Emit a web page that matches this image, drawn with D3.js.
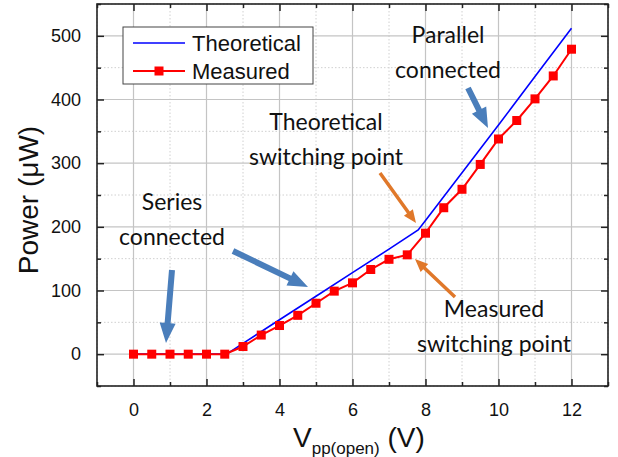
<!DOCTYPE html>
<html lang="en">
<head>
<meta charset="UTF-8">
<title>Power vs Vpp</title>
<script src="https://cdn.jsdelivr.net/npm/d3@7"></script>
<style>
  body { margin: 0; background: #fff; }
  svg { display: block; }
  .tick-lbl { font-family: "Liberation Sans", Arial, sans-serif; font-size: 18px; fill: #111; }
  .note { font-family: Lato, "Open Sans", sans-serif; font-size: 23px; fill: #111; }
</style>
</head>
<body>
<svg id="chart"></svg>
<script>
// theoretical curve
var theoX = [0, 1, 2, 2.55, 3, 4, 5, 6, 7, 7.8, 8, 9, 10, 11, 12];
var theoY = [0, 0, 0, 0, 17, 54, 91, 128, 165, 195, 210, 285, 360, 436, 512];

// measured points (red squares)
var measX = [0, 0.5, 1, 1.5, 2, 2.5, 3, 3.5, 4, 4.5, 5, 5.5, 6, 6.5, 7, 7.5, 8, 8.5, 9, 9.5, 10, 10.5, 11, 11.5, 12];
var measY = [0, 0, 0, 0, 0, 0, 12, 30, 45, 61, 80, 99, 112, 133, 149, 156, 190, 230, 259, 298, 338, 367, 401, 437, 479];

var xTicks = [0, 2, 4, 6, 8, 10, 12];
var yTicks = [0, 100, 200, 300, 400, 500];
var xMinor = [-1, 1, 3, 5, 7, 9, 11, 13];
var yMinor = [-50, 50, 150, 250, 350, 450, 550];

var seriesNames = ["Theoretical", "Measured"];

var width = 618, height = 457;
var margin = { top: 4, left: 97, right: 10, bottom: 71 };
var chartW = width - margin.left - margin.right;
var chartH = height - margin.top - margin.bottom;

var svg = d3.select("#chart").attr("width", width).attr("height", height);

var xScale = d3.scaleLinear().domain([-1, 13]).range([0, chartW]);
var yScale = d3.scaleLinear().domain([-50, 550]).range([chartH, 0]);

var plot = svg.append("g")
  .attr("transform", "translate(" + margin.left + "," + margin.top + ")");

// grid: minor dotted, major solid
plot.append("g").selectAll("line").data(xMinor).enter().append("line")
  .attr("x1", d => xScale(d)).attr("x2", d => xScale(d))
  .attr("y1", 0).attr("y2", chartH)
  .attr("stroke", "#d0d0d0").attr("stroke-width", 1).attr("stroke-dasharray", "1.5,2");
plot.append("g").selectAll("line").data(yMinor).enter().append("line")
  .attr("y1", d => yScale(d)).attr("y2", d => yScale(d))
  .attr("x1", 0).attr("x2", chartW)
  .attr("stroke", "#d0d0d0").attr("stroke-width", 1).attr("stroke-dasharray", "1.5,2");
plot.append("g").selectAll("line").data(xTicks).enter().append("line")
  .attr("x1", d => xScale(d)).attr("x2", d => xScale(d))
  .attr("y1", 0).attr("y2", chartH)
  .attr("stroke", "#c4c4c4").attr("stroke-width", 1.2);
plot.append("g").selectAll("line").data(yTicks).enter().append("line")
  .attr("y1", d => yScale(d)).attr("y2", d => yScale(d))
  .attr("x1", 0).attr("x2", chartW)
  .attr("stroke", "#c4c4c4").attr("stroke-width", 1.2);

// axes with inward ticks on all four sides
function styleAxis(g) {
  g.select(".domain").remove();
  g.selectAll(".tick line").attr("stroke", "#222").attr("stroke-width", 1.5);
  g.selectAll(".tick text").attr("class", "tick-lbl").attr("fill", null);
}
var xAxis = d3.axisBottom(xScale).tickValues(xTicks).tickSize(-7).tickPadding(17).tickFormat(d3.format("d"));
var yAxis = d3.axisLeft(yScale).tickValues(yTicks).tickSize(-7).tickPadding(16).tickFormat(d3.format("d"));
plot.append("g").attr("transform", "translate(0," + chartH + ")").call(xAxis).call(styleAxis);
plot.append("g").call(yAxis).call(styleAxis);
plot.append("g").call(d3.axisTop(xScale).tickValues(xTicks).tickSize(-7).tickFormat("")).call(styleAxis);
plot.append("g").attr("transform", "translate(" + chartW + ",0)")
  .call(d3.axisRight(yScale).tickValues(yTicks).tickSize(-7).tickFormat("")).call(styleAxis);
// minor ticks
plot.append("g").attr("transform", "translate(0," + chartH + ")")
  .call(d3.axisBottom(xScale).tickValues(xMinor).tickSize(-4).tickFormat("")).call(styleAxis);
plot.append("g").call(d3.axisTop(xScale).tickValues(xMinor).tickSize(-4).tickFormat("")).call(styleAxis);
plot.append("g").call(d3.axisLeft(yScale).tickValues(yMinor).tickSize(-4).tickFormat("")).call(styleAxis);
plot.append("g").attr("transform", "translate(" + chartW + ",0)")
  .call(d3.axisRight(yScale).tickValues(yMinor).tickSize(-4).tickFormat("")).call(styleAxis);

plot.append("rect").attr("width", chartW).attr("height", chartH)
  .attr("fill", "none").attr("stroke", "#222").attr("stroke-width", 1.6);

// lines
var theo = theoX.map((x, i) => [x, theoY[i]]);
var meas = measX.map((x, i) => [x, measY[i]]);
var line = d3.line().x(d => xScale(d[0])).y(d => yScale(d[1]));

plot.append("path").datum(theo).attr("d", line)
  .attr("fill", "none").attr("stroke", "#0000ff").attr("stroke-width", 1.6);
plot.append("path").datum(meas).attr("d", line)
  .attr("fill", "none").attr("stroke", "#ff0000").attr("stroke-width", 2);
plot.append("g").selectAll("rect").data(meas).enter().append("rect")
  .attr("x", d => xScale(d[0]) - 4.5).attr("y", d => yScale(d[1]) - 4.5)
  .attr("width", 9).attr("height", 9).attr("fill", "#ff0000");

// annotation arrows
function arrow(x1, y1, x2, y2, color, shaft, headW, headL) {
  var dx = x2 - x1, dy = y2 - y1, len = Math.sqrt(dx * dx + dy * dy);
  var ux = dx / len, uy = dy / len, px = -uy, py = ux;
  var bx = x2 - ux * headL, by = y2 - uy * headL;
  var pts = [
    [x1 + px * shaft / 2, y1 + py * shaft / 2],
    [bx + px * shaft / 2, by + py * shaft / 2],
    [bx + px * headW / 2, by + py * headW / 2],
    [x2, y2],
    [bx - px * headW / 2, by - py * headW / 2],
    [bx - px * shaft / 2, by - py * shaft / 2],
    [x1 - px * shaft / 2, y1 - py * shaft / 2]
  ];
  svg.append("polygon").attr("points", pts.map(p => p.join(",")).join(" ")).attr("fill", color);
}
var blue = "#4a7ebb", orange = "#e0782a";
arrow(172, 270, 166, 343, blue, 6, 16, 20);
arrow(233, 251, 308, 287, blue, 6, 16, 20);
arrow(468, 88, 488, 128, blue, 6, 16, 20);
arrow(380, 173, 416, 223, orange, 3.5, 11, 13);
arrow(455, 297, 415, 259, orange, 3.5, 11, 13);

// annotation texts
var notes = [
  ["Series", 172, 210], ["connected", 172, 245],
  ["Parallel", 448, 43], ["connected", 448, 78],
  ["Theoretical", 326, 130], ["switching point", 326, 165],
  ["Measured", 494, 317], ["switching point", 494, 352]
];
svg.append("g").selectAll("text").data(notes).enter().append("text")
  .attr("class", "note").attr("text-anchor", "middle")
  .attr("x", d => d[1]).attr("y", d => d[2]).text(d => d[0]);

// legend
var lg = svg.append("g").attr("transform", "translate(123,27)");
lg.append("rect").attr("width", 190).attr("height", 57)
  .attr("fill", "#fff").attr("stroke", "#444").attr("stroke-width", 1);
lg.append("line").attr("x1", 10).attr("x2", 62).attr("y1", 16).attr("y2", 16)
  .attr("stroke", "#0000ff").attr("stroke-width", 1.6);
lg.append("line").attr("x1", 10).attr("x2", 62).attr("y1", 44).attr("y2", 44)
  .attr("stroke", "#ff0000").attr("stroke-width", 2);
lg.append("rect").attr("x", 31.5).attr("y", 39.5).attr("width", 9).attr("height", 9).attr("fill", "#ff0000");
lg.selectAll("text.lbl").data(seriesNames).enter().append("text")
  .attr("x", 69).attr("y", (d, i) => 24 + i * 28)
  .attr("font-family", "Liberation Sans, Arial, sans-serif").attr("font-size", 22)
  .attr("fill", "#111").text(d => d);

// axis titles
svg.append("text")
  .attr("transform", "translate(38,200) rotate(-90)")
  .attr("text-anchor", "middle")
  .attr("font-family", "Liberation Sans, Arial, sans-serif").attr("font-size", 28).attr("fill", "#111")
  .text("Power (\u03bcW)");

var xt = svg.append("text").attr("x", 293).attr("y", 447)
  .attr("font-family", "Liberation Sans, Arial, sans-serif").attr("font-size", 28).attr("fill", "#111");
xt.append("tspan").text("V");
xt.append("tspan").attr("font-size", 17).attr("dy", 7).text("pp(open)");
xt.append("tspan").attr("dy", -7).text(" (V)");
</script>
</body>
</html>
